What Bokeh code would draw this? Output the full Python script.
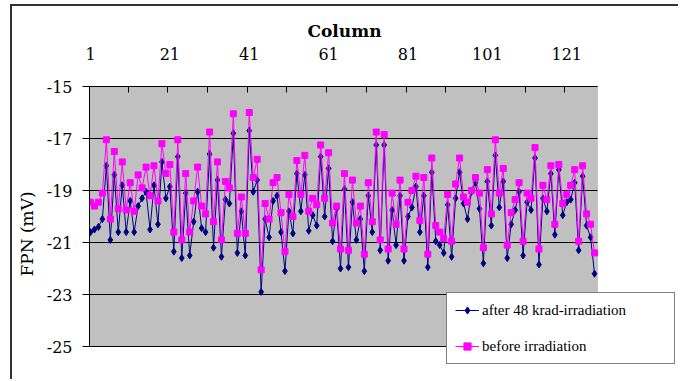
from bokeh.plotting import figure
from bokeh.models import FixedTicker, Legend, LegendItem, Range1d, BoxAnnotation
from bokeh.embed import file_html
from bokeh.resources import INLINE

columns = list(range(1, 129))

after_48krad = [
    -20.6, -20.5, -20.4, -20.1, -18.05, -20.9, -18.4, -20.6, -18.8, -20.6,
    -19.4, -20.6, -19.6, -19.3, -19.05, -20.5, -18.8, -20.3, -17.9, -19.3,
    -18.85, -21.35, -17.7, -21.6, -19.1, -21.5, -20.2, -19.05, -20.45, -20.6,
    -17.6, -21.2, -18.6, -21.55, -19.35, -19.5, -16.8, -21.4, -19.8, -21.5,
    -16.7, -19.05, -18.6, -22.9, -20.1, -20.8, -19.4, -19.2, -20.6, -22.1,
    -19.8, -20.65, -18.35, -19.8, -18.4, -20.55, -19.95, -20.35, -17.7, -20.0,
    -18.15, -20.95, -19.7, -22.0, -18.95, -21.95, -19.45, -20.9, -20.1, -22.1,
    -19.2, -20.6, -17.25, -21.3, -17.25, -21.7, -19.75, -21.1, -19.2, -21.7,
    -20.0, -19.65, -18.85, -20.6, -19.2, -21.95, -18.3, -20.95, -21.1, -21.4,
    -19.55, -21.55, -19.3, -18.3, -19.5, -20.1, -19.05, -18.7, -19.7, -21.8,
    -18.65, -20.35, -17.65, -19.65, -18.65, -21.6, -20.3, -19.75, -19.05, -21.5,
    -19.45, -19.75, -17.75, -21.85, -19.3, -19.8, -18.35, -20.7, -18.2, -19.95,
    -19.45, -19.35, -18.7, -21.3, -18.45, -20.35, -20.8, -22.2,
]

before_irradiation = [
    -19.45, -19.6, -19.45, -19.1, -17.05, -20.1, -17.5, -19.7, -17.9, -19.75,
    -18.7, -19.8, -18.4, -18.9, -18.1, -19.2, -18.05, -19.4, -17.2, -18.35,
    -18.0, -20.6, -17.05, -20.9, -18.35, -20.6, -19.4, -18.1, -19.6, -19.9,
    -16.75, -20.2, -17.9, -20.9, -18.65, -18.9, -16.05, -20.65, -19.25, -20.65,
    -16.0, -18.5, -17.8, -22.05, -19.5, -20.1, -18.7, -18.5, -19.85, -21.35,
    -19.15, -20.0, -17.85, -19.15, -17.65, -19.8, -19.3, -19.55, -17.25, -19.3,
    -17.55, -20.25, -19.6, -21.25, -18.35, -21.3, -18.6, -20.25, -19.6, -21.45,
    -18.7, -20.2, -16.75, -20.9, -16.85, -21.25, -19.1, -20.3, -18.6, -21.25,
    -19.45, -19.0, -18.45, -20.15, -18.5, -21.45, -17.75, -20.35, -20.6, -20.85,
    -19.15, -20.95, -18.75, -17.75, -19.25, -19.45, -19.0, -18.5, -19.1, -21.2,
    -18.2, -19.9, -17.05, -19.1, -18.15, -21.1, -19.85, -19.35, -18.7, -20.95,
    -19.1, -19.3, -17.35, -21.25, -18.8, -19.35, -18.05, -20.3, -18.0, -19.5,
    -19.15, -18.8, -18.2, -20.95, -18.05, -19.9, -20.3, -21.4,
]

x_label_ticks = [1, 21, 41, 61, 81, 101, 121]
x_minor_ticks = [10.5, 20.5, 30.5, 40.5, 50.5, 60.5, 70.5, 80.5, 90.5, 100.5, 110.5, 120.5]
y_ticks = [-25, -23, -21, -19, -17, -15]

SERIF = "DejaVu Serif"
LEGEND_FONT = "Liberation Serif"

# plot-area extent (data units)
X_START, X_END = 0.75, 128.75
Y_MIN, Y_MAX = -25, -15

# canvas / frame geometry (pixels)
CANVAS_W, CANVAS_H = 668, 375
BORDER_L, BORDER_T = 77, 80
AREA_W, AREA_H = 508, 260          # gray plot area size
FRAME_W = CANVAS_W - BORDER_L
FRAME_H = CANVAS_H - BORDER_T
x_end_frame = X_START + FRAME_W * (X_END - X_START) / AREA_W
y_min_frame = Y_MAX - FRAME_H * (Y_MAX - Y_MIN) / AREA_H

p = figure(
    width=CANVAS_W, height=CANVAS_H,
    x_range=Range1d(X_START, x_end_frame), y_range=Range1d(y_min_frame, Y_MAX),
    x_axis_location="above",
    output_backend="svg", toolbar_location=None,
    min_border_left=BORDER_L, min_border_right=0, min_border_top=BORDER_T, min_border_bottom=0,
    background_fill_color="white", border_fill_color="white",
    outline_line_color=None,
    margin=(6, 0, 0, 12),
    styles={"box-shadow": "-2px -2px 0 0 #333333"},
)

# axis title "Column", placed over the middle of the gray plot area
p.title.text = "Column"
p.title.align = "left"
p.title.offset = 218
p.title.text_font = SERIF
p.title.text_font_style = "bold"
p.title.text_font_size = "17px"
p.title.text_color = "black"
p.title.standoff = 8

# gray plot area
p.add_layout(BoxAnnotation(left=X_START, right=X_END, bottom=Y_MIN, top=Y_MAX,
                           fill_color="#C0C0C0", fill_alpha=1.0,
                           line_color="#808080", line_width=1, level="underlay"))

# x axis (top)
xa = p.xaxis[0]
xa.bounds = (X_START, X_END)
xa.ticker = FixedTicker(ticks=x_label_ticks, minor_ticks=x_minor_ticks)
xa.major_label_text_font = SERIF
xa.major_label_text_font_size = "16px"
xa.major_label_text_color = "black"
xa.major_label_standoff = 27
xa.major_tick_in = 0
xa.major_tick_out = 0
xa.minor_tick_in = 6
xa.minor_tick_out = 0
xa.minor_tick_line_color = "black"
xa.axis_line_color = "black"

# y axis
ya = p.yaxis[0]
ya.bounds = (Y_MIN, Y_MAX)
ya.ticker = FixedTicker(ticks=y_ticks)
ya.major_label_overrides = {float(t): str(t) for t in y_ticks}
ya.axis_label = "FPN (mV)"
ya.axis_label_text_font = SERIF
ya.axis_label_text_font_style = "normal"
ya.axis_label_text_font_size = "17px"
ya.axis_label_text_color = "black"
ya.axis_label_standoff = 7
ya.major_label_text_font = SERIF
ya.major_label_text_font_size = "16px"
ya.major_label_text_color = "black"
ya.major_label_standoff = 10
ya.major_tick_in = 0
ya.major_tick_out = 7
ya.major_tick_line_color = "black"
ya.minor_tick_line_color = None
ya.axis_line_color = "black"

p.xgrid.visible = False
p.ygrid.visible = False

# horizontal gridlines limited to the plot area
p.segment(x0=[X_START] * len(y_ticks), x1=[X_END] * len(y_ticks),
          y0=y_ticks, y1=y_ticks, line_color="black", line_width=1)

NAVY = "#000080"
PINK = "#FF00FF"

l1 = p.line(columns, after_48krad, line_color=NAVY, line_width=1)
s1 = p.scatter(columns, after_48krad, marker="diamond", size=7, fill_color=NAVY, line_color=NAVY)
l2 = p.line(columns, before_irradiation, line_color=PINK, line_width=1)
s2 = p.scatter(columns, before_irradiation, marker="square", size=6, fill_color=PINK, line_color=PINK)

legend = Legend(
    items=[
        LegendItem(label="after 48 krad-irradiation", renderers=[l1, s1]),
        LegendItem(label="before irradiation", renderers=[l2, s2]),
    ],
    location=(357, 17),
    label_text_font=LEGEND_FONT,
    label_text_font_size="15px",
    label_text_color="black",
    label_height=18, glyph_height=18, glyph_width=24,
    label_width=184, label_standoff=3,
    spacing=18, padding=8, margin=0,
    border_line_color="black", border_line_width=1.5,
    background_fill_color="white", background_fill_alpha=1.0,
)
p.add_layout(legend)

open("out.html", "w").write(file_html(p, INLINE))
